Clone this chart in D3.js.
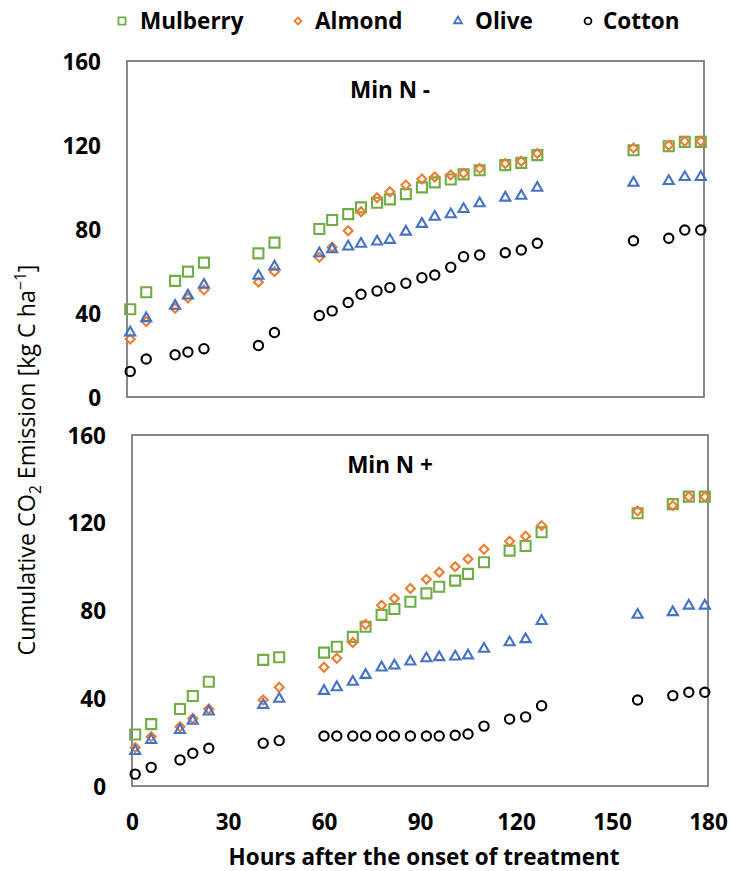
<!DOCTYPE html>
<html>
<head>
<meta charset="utf-8">
<script src="https://cdn.jsdelivr.net/npm/d3@7"></script>
<style>
  html, body { margin: 0; padding: 0; background: #fff; }
  text { font-family: "Open Sans", "Liberation Sans", sans-serif; }
</style>
</head>
<body>
<svg id="chart" width="730" height="871"></svg>
<script>
// ---------- DATA ----------
const hours = [1, 6, 15, 19, 24, 41, 46, 60, 64, 69, 73, 78, 82, 87, 92, 96, 101, 105, 110, 118, 123, 128, 158, 169, 174, 179];

// Panel "Min N -"
const mulberryMinus = [41.8, 49.9, 55.3, 59.7, 64.0, 68.4, 73.5, 80.0, 84.3, 87.1, 90.3, 92.5, 94.1, 96.6, 99.8, 102.2, 103.6, 106.0, 108.0, 110.4, 111.5, 115.2, 117.5, 119.4, 121.5, 121.5];
const almondMinus   = [27.6, 35.9, 42.3, 47.1, 51.0, 54.7, 59.7, 66.5, 71.3, 79.2, 88.2, 94.9, 97.7, 100.9, 103.8, 104.8, 105.7, 106.5, 108.8, 111.2, 112.3, 116.0, 118.6, 119.9, 121.8, 121.8];
const oliveMinus    = [30.7, 37.5, 43.4, 48.3, 53.4, 57.7, 62.1, 68.4, 70.3, 71.6, 72.9, 74.0, 74.8, 78.7, 82.4, 85.8, 87.0, 89.5, 92.2, 94.9, 95.8, 99.6, 102.0, 102.8, 104.7, 104.7];
const cottonMinus   = [12.2, 18.1, 20.1, 21.4, 23.0, 24.5, 30.7, 38.8, 41.0, 45.0, 48.9, 50.5, 52.1, 54.2, 56.8, 58.1, 61.8, 66.8, 67.6, 68.7, 70.0, 73.2, 74.4, 75.6, 79.5, 79.5];

// Panel "Min N +"
const mulberryPlus = [23.5, 28.2, 35.1, 41.0, 47.5, 57.5, 58.7, 60.8, 63.5, 68.0, 72.6, 78.0, 80.7, 84.0, 87.8, 90.8, 93.6, 96.7, 102.0, 107.3, 109.4, 115.7, 124.3, 128.5, 131.9, 131.9];
const almondPlus   = [17.5, 22.5, 27.0, 30.8, 35.1, 39.2, 45.0, 54.1, 58.2, 65.4, 73.6, 82.4, 85.5, 90.0, 94.2, 97.4, 100.0, 103.5, 107.9, 111.6, 113.9, 118.7, 125.4, 127.8, 131.9, 131.9];
const olivePlus    = [15.9, 20.9, 25.5, 29.7, 33.9, 36.9, 39.7, 43.3, 45.0, 47.5, 50.6, 54.0, 54.9, 56.7, 58.2, 58.7, 59.0, 59.5, 62.5, 65.5, 66.9, 75.2, 78.0, 79.2, 82.2, 82.2];
const cottonPlus   = [5.4, 8.5, 11.9, 14.9, 17.2, 19.5, 20.7, 22.8, 22.8, 22.8, 22.8, 22.8, 22.8, 22.8, 22.8, 22.8, 23.1, 23.7, 27.3, 30.5, 31.5, 36.6, 39.2, 41.2, 42.7, 42.7];

const seriesNames = ["Mulberry", "Almond", "Olive", "Cotton"];
const panelTitles = ["Min N -", "Min N +"];
const xTicks = [0, 30, 60, 90, 120, 150, 180];
const yTicks = [0, 40, 80, 120, 160];
const xTitle = "Hours after the onset of treatment";

// ---------- STYLE ----------
const colors = { Mulberry: "#70AD47", Almond: "#ED7D31", Olive: "#4472C4", Cotton: "#000000" };
const symbols = {
  Mulberry: { type: d3.symbolSquare, size: 100, rot: 0 },
  Almond:   { type: d3.symbolSquare, size: 40, rot: 45 },
  Olive:    { type: d3.symbolTriangle, size: 44, rot: 0 },
  Cotton:   { type: d3.symbolCircle, size: 68, rot: 0 }
};

const svg = d3.select("#chart");

const panels = [
  { title: panelTitles[0], x0: 127, x1: 704, y0: 397, y1: 61, titleY: 98,
    data: { Mulberry: mulberryMinus, Almond: almondMinus, Olive: oliveMinus, Cotton: cottonMinus } },
  { title: panelTitles[1], x0: 132, x1: 708, y0: 786, y1: 435, titleY: 473,
    data: { Mulberry: mulberryPlus, Almond: almondPlus, Olive: olivePlus, Cotton: cottonPlus } }
];

panels.forEach((p, i) => {
  const x = d3.scaleLinear().domain([0, 180]).range([p.x0, p.x1]);
  const y = d3.scaleLinear().domain([0, 160]).range([p.y0, p.y1]);

  // frame
  svg.append("rect")
    .attr("x", p.x0).attr("y", p.y1)
    .attr("width", p.x1 - p.x0).attr("height", p.y0 - p.y1)
    .attr("fill", "none").attr("stroke", "#6b6b6b").attr("stroke-width", 1.6);

  // y axis
  const gy = svg.append("g").attr("transform", `translate(${p.x0},0)`)
    .call(d3.axisLeft(y).tickValues(yTicks).tickSize(0).tickPadding(26));
  gy.select(".domain").remove();
  gy.selectAll("text").attr("font-family", "Open Sans").attr("font-weight", 700)
    .attr("font-size", 22.5).attr("fill", "#000").attr("dy", "0.36em");

  // x axis labels only on bottom panel
  if (i === 1) {
    const gx = svg.append("g").attr("transform", `translate(0,${p.y0})`)
      .call(d3.axisBottom(x).tickValues(xTicks).tickSize(0).tickPadding(0));
    gx.select(".domain").remove();
    gx.selectAll("text").attr("font-family", "Open Sans").attr("font-weight", 700)
      .attr("font-size", 22.5).attr("fill", "#000").attr("y", 44).attr("dy", 0);
  }

  // panel title
  svg.append("text").attr("x", 390).attr("y", p.titleY)
    .attr("text-anchor", "middle").attr("font-weight", 700).attr("font-size", 22.5)
    .text(p.title);

  // points
  seriesNames.forEach(name => {
    const s = symbols[name];
    const gen = d3.symbol().type(s.type).size(s.size);
    svg.append("g").selectAll("path")
      .data(hours.map((h, k) => ({ h, v: p.data[name][k] })))
      .join("path")
      .attr("d", gen)
      .attr("transform", d => `translate(${x(d.h)},${y(d.v)}) rotate(${s.rot})`)
      .attr("fill", "none")
      .attr("stroke", colors[name])
      .attr("stroke-width", 2.1);
  });
});

// fit a text element to a target length by scaling its font size
function fitText(sel, target) {
  const len = sel.node().getComputedTextLength();
  const k = target / len;
  sel.attr("font-size", +sel.attr("font-size") * k);
  sel.selectAll("tspan").each(function () {
    const t = d3.select(this);
    if (t.attr("font-size")) t.attr("font-size", +t.attr("font-size") * k);
    if (t.attr("dy")) t.attr("dy", +t.attr("dy") * k);
  });
}

// x title
const xt = svg.append("text").attr("x", 424).attr("y", 865)
  .attr("text-anchor", "middle").attr("font-weight", 700).attr("font-size", 22.5)
  .text(xTitle);
fitText(xt, 391);

// y title
const yt = svg.append("text")
  .attr("transform", "translate(35,460) rotate(-90)")
  .attr("text-anchor", "middle").attr("font-size", 21).attr("fill", "#000");
yt.append("tspan").text("Cumulative CO");
yt.append("tspan").attr("font-size", 14).attr("dy", 5).text("2");
yt.append("tspan").attr("dy", -5).text(" Emission [kg C ha");
yt.append("tspan").attr("font-size", 14).attr("dy", -8).text("\u22121");
yt.append("tspan").attr("dy", 8).text("]");
fitText(yt, 391);

// legend
const legendItems = [
  { name: "Mulberry", mx: 122, tx: 140 },
  { name: "Almond", mx: 298, tx: 315 },
  { name: "Olive", mx: 458, tx: 475 },
  { name: "Cotton", mx: 588, tx: 603 }
];
const legendScale = { Mulberry: 0.5, Almond: 0.6, Olive: 0.6, Cotton: 0.55 };
legendItems.forEach(li => {
  const s = symbols[li.name];
  svg.append("path")
    .attr("d", d3.symbol().type(s.type).size(s.size * legendScale[li.name])())
    .attr("transform", `translate(${li.mx},21) rotate(${s.rot})`)
    .attr("fill", "none").attr("stroke", colors[li.name]).attr("stroke-width", 1.8);
  svg.append("text").attr("x", li.tx).attr("y", 29.3)
    .attr("font-weight", 700).attr("font-size", 22.5).text(li.name);
});
</script>
</body>
</html>
